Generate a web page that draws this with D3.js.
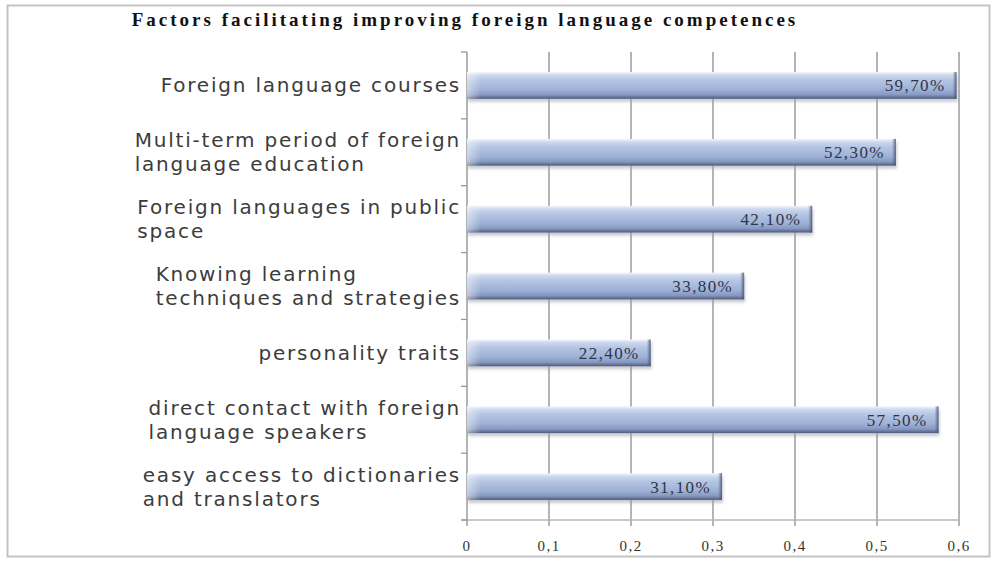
<!DOCTYPE html>
<html>
<head>
<meta charset="utf-8">
<script src="https://cdn.jsdelivr.net/npm/d3@7/dist/d3.min.js"></script>
<style>
  html, body { margin: 0; padding: 0; background: #fff; }
  svg { display: block; }
</style>
</head>
<body>
<svg id="chart" width="996" height="562"></svg>
<script>
// Survey results: factors facilitating improving foreign language competences
const categories = [
  "Foreign language courses",
  "Multi-term period of foreign language education",
  "Foreign languages in public space",
  "Knowing learning techniques and strategies",
  "personality traits",
  "direct contact with foreign language speakers",
  "easy access to dictionaries and translators"
];
const categoryLines = [
  ["Foreign language courses"],
  ["Multi-term period of foreign", "language education"],
  ["Foreign languages in public", "space"],
  ["Knowing learning", "techniques and strategies"],
  ["personality traits"],
  ["direct contact with foreign", "language speakers"],
  ["easy access to dictionaries", "and translators"]
];
const values = [0.597, 0.523, 0.421, 0.338, 0.224, 0.575, 0.311];
const valueLabels = ["59,70%", "52,30%", "42,10%", "33,80%", "22,40%", "57,50%", "31,10%"];
const xTicks = [0, 0.1, 0.2, 0.3, 0.4, 0.5, 0.6];
const xTickLabels = ["0", "0,1", "0,2", "0,3", "0,4", "0,5", "0,6"];
const title = "Factors facilitating improving foreign language competences";

const svg = d3.select("#chart");
const W = 996, H = 562;
const m = { left: 467, right: 37, top: 52, bottom: 42 };

// Outer chart frame
svg.append("rect")
  .attr("x", 7.5).attr("y", 5.5).attr("width", 982).attr("height", 551)
  .attr("fill", "#fff").attr("stroke", "#c4c4c4").attr("stroke-width", 2);

const x = d3.scaleLinear().domain([0, 0.6]).range([m.left, 959]);
const y = d3.scaleBand().domain(categories)
  .range([m.top, H - m.bottom]).paddingInner(0.6).paddingOuter(0.3);

// Bar gradient (vertical bevel)
const defs = svg.append("defs");
const g1 = defs.append("linearGradient").attr("id", "barFill")
  .attr("x1", 0).attr("y1", 0).attr("x2", 0).attr("y2", 1);
[[0, "#f2f5fb"], [0.12, "#cdd8ee"], [0.3, "#b5c5e3"], [0.65, "#9eb1d6"], [0.85, "#8799c2"], [1, "#4f5a7a"]]
  .forEach(([o, c]) => g1.append("stop").attr("offset", o).attr("stop-color", c));
const g2 = defs.append("linearGradient").attr("id", "barEnd")
  .attr("x1", 0).attr("y1", 0).attr("x2", 1).attr("y2", 0);
[[0, "#5a6585", 0], [1, "#4a5472", 0.9]]
  .forEach(([o, c, a]) => g2.append("stop").attr("offset", o).attr("stop-color", c).attr("stop-opacity", a));
const g3 = defs.append("linearGradient").attr("id", "barStart")
  .attr("x1", 0).attr("y1", 0).attr("x2", 1).attr("y2", 0);
[[0, "#ffffff", 0.45], [1, "#ffffff", 0]]
  .forEach(([o, c, a]) => g3.append("stop").attr("offset", o).attr("stop-color", c).attr("stop-opacity", a));
const blur = defs.append("filter").attr("id", "shadow").attr("x", -0.05).attr("y", -0.3).attr("width", 1.1).attr("height", 1.8);
blur.append("feGaussianBlur").attr("stdDeviation", 1.5);

// Vertical gridlines, extending below the axis as tick marks
svg.append("g").selectAll("line").data(xTicks.slice(1)).join("line")
  .attr("x1", d => x(d)).attr("x2", d => x(d))
  .attr("y1", m.top).attr("y2", H - m.bottom + 6)
  .attr("stroke", "#8c8c8c").attr("stroke-width", 1.3);

// X axis line
svg.append("line")
  .attr("x1", x(0) - 6).attr("x2", x(0.6))
  .attr("y1", H - m.bottom).attr("y2", H - m.bottom)
  .attr("stroke", "#b4b8bc").attr("stroke-width", 1.5);

// X tick labels
svg.append("g").selectAll("text").data(xTicks).join("text")
  .attr("x", d => x(d)).attr("y", H - m.bottom + 31)
  .attr("text-anchor", "middle")
  .attr("font-family", "Liberation Serif, serif").attr("font-size", 15)
  .attr("fill", "#333").attr("letter-spacing", 1.5)
  .text((d, i) => xTickLabels[i]);

// Y axis line with small ticks at band boundaries
svg.append("line")
  .attr("x1", x(0)).attr("x2", x(0)).attr("y1", m.top).attr("y2", H - m.bottom + 6)
  .attr("stroke", "#8c8c8c").attr("stroke-width", 1.3);
const step = y.step();
const tickYs = d3.range(categories.length + 1).map(i => m.top + i * step);
svg.append("g").selectAll("line").data(tickYs).join("line")
  .attr("x1", x(0) - 6).attr("x2", x(0))
  .attr("y1", d => d).attr("y2", d => d)
  .attr("stroke", "#9a9a9a").attr("stroke-width", 1.3);

// Bars
const bars = svg.append("g").selectAll("g").data(values).join("g");
bars.append("rect")
  .attr("x", x(0) + 1).attr("y", (d, i) => y(categories[i]) + 3)
  .attr("width", d => x(d) - x(0)).attr("height", y.bandwidth())
  .attr("fill", "#9aa0ae").attr("opacity", 0.55).attr("filter", "url(#shadow)");
bars.append("rect")
  .attr("x", x(0)).attr("y", (d, i) => y(categories[i]))
  .attr("width", d => x(d) - x(0)).attr("height", y.bandwidth())
  .attr("fill", "url(#barFill)");
bars.append("rect")
  .attr("x", x(0)).attr("y", (d, i) => y(categories[i]))
  .attr("width", 14).attr("height", y.bandwidth())
  .attr("fill", "url(#barStart)");
bars.append("rect")
  .attr("x", d => x(d) - 4).attr("y", (d, i) => y(categories[i]))
  .attr("width", 4).attr("height", y.bandwidth())
  .attr("fill", "url(#barEnd)");

// Value labels inside the bar ends
bars.append("text")
  .attr("x", d => x(d) - 11)
  .attr("y", (d, i) => y(categories[i]) + y.bandwidth() / 2 + 6)
  .attr("text-anchor", "end")
  .attr("font-family", "Liberation Serif, serif").attr("font-size", 17)
  .attr("fill", "#2f3547").attr("letter-spacing", 1.4)
  .text((d, i) => valueLabels[i]);

// Category labels (wrapped, left-aligned block placed against the axis)
const lineH = 24;
const labelFont = { family: "DejaVu Sans, sans-serif", size: 20, spacing: 1.8 };
categoryLines.forEach((lines, i) => {
  const cy = y(categories[i]) + y.bandwidth() / 2;
  const g = svg.append("g");
  const texts = lines.map((ln, k) => g.append("text")
    .attr("y", cy + (k - (lines.length - 1) / 2) * lineH + 7)
    .attr("font-family", labelFont.family).attr("font-size", labelFont.size)
    .attr("letter-spacing", labelFont.spacing)
    .attr("fill", "#3c3c3c").text(ln));
  const wMax = d3.max(texts, t => t.node().getComputedTextLength());
  texts.forEach(t => t.attr("x", x(0) - 6 - wMax));
});

// Title
svg.append("text")
  .attr("x", 465).attr("y", 26).attr("text-anchor", "middle")
  .attr("font-family", "Liberation Serif, serif").attr("font-weight", "bold")
  .attr("font-size", 19).attr("letter-spacing", 3)
  .attr("fill", "#111").text(title);
</script>
</body>
</html>
